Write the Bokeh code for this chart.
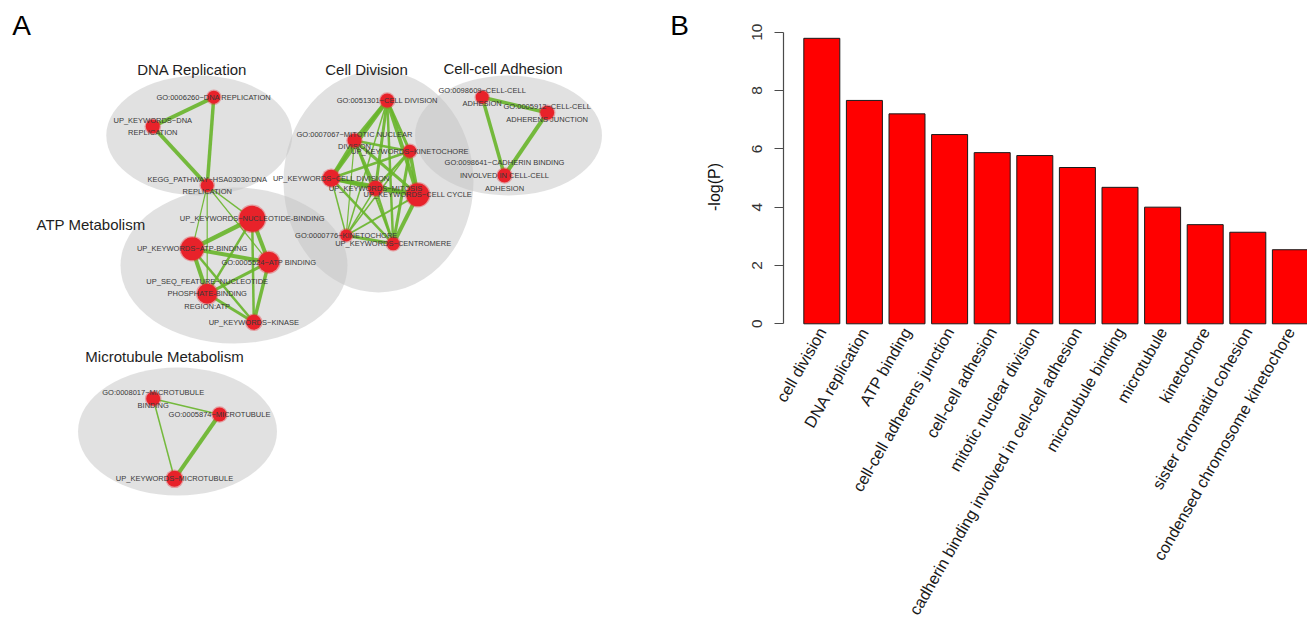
import math
from bokeh.plotting import figure
from bokeh.models import Range1d, FixedTicker, ColumnDataSource
from bokeh.layouts import row
from bokeh.embed import file_html
from bokeh.resources import INLINE
from bokeh.core.properties import value

# ---------------- Panel A: enrichment map ----------------
cluster_names = ["DNA Replication", "Cell Division", "Cell-cell Adhesion",
                 "ATP Metabolism", "Microtubule Metabolism"]
cluster_x = [198.8, 378.0, 508.0, 233.5, 177.0]
cluster_y = [135.0, 181.0, 135.0, 265.0, 431.0]
cluster_w = [186.0, 190.0, 187.0, 227.0, 199.0]
cluster_h = [120.0, 222.0, 120.0, 156.0, 128.0]
title_x = [191.7, 366.0, 503.0, 90.5, 164.0]
title_y = [69.0, 69.0, 68.0, 224.0, 356.0]

node_labels = [
    "GO:0006260~DNA REPLICATION",
    "UP_KEYWORDS~DNA\nREPLICATION",
    "KEGG_PATHWAY~HSA03030:DNA\nREPLICATION",
    "GO:0051301~CELL DIVISION",
    "GO:0007067~MITOTIC NUCLEAR\nDIVISION",
    "UP_KEYWORDS~KINETOCHORE",
    "UP_KEYWORDS~CELL DIVISION",
    "UP_KEYWORDS~MITOSIS",
    "UP_KEYWORDS~CELL CYCLE",
    "GO:0000776~KINETOCHORE",
    "UP_KEYWORDS~CENTROMERE",
    "GO:0098609~CELL-CELL\nADHESION",
    "GO:0005912~CELL-CELL\nADHERENS JUNCTION",
    "GO:0098641~CADHERIN BINDING\nINVOLVED IN CELL-CELL\nADHESION",
    "UP_KEYWORDS~NUCLEOTIDE-BINDING",
    "UP_KEYWORDS~ATP-BINDING",
    "GO:0005524~ATP BINDING",
    "UP_SEQ_FEATURE~NUCLEOTIDE\nPHOSPHATE-BINDING\nREGION:ATP",
    "UP_KEYWORDS~KINASE",
    "GO:0008017~MICROTUBULE\nBINDING",
    "GO:0005874~MICROTUBULE",
    "UP_KEYWORDS~MICROTUBULE",
]
node_x = [213.3, 152.3, 206.7,
          386.7, 354.0, 409.3, 330.7, 375.0, 417.3, 345.7, 392.7,
          481.7, 546.7, 504.0,
          251.7, 191.7, 268.3, 206.7, 253.3,
          152.7, 219.0, 174.0]
node_y = [96.7, 126.0, 185.0,
          100.0, 140.0, 150.7, 177.7, 187.7, 194.3, 235.0, 243.3,
          96.7, 112.3, 175.0,
          218.3, 248.3, 261.7, 293.3, 321.7,
          398.3, 414.0, 478.3]
node_size = [6.5, 7.0, 6.5,
             7.0, 7.0, 6.5, 8.5, 7.5, 11.5, 6.0, 6.5,
             6.5, 7.0, 7.0,
             13.0, 11.5, 10.5, 10.0, 7.5,
             7.0, 7.0, 8.0]

edge_src = [0, 0, 1,
            2, 2, 2, 2,
            3, 3, 3, 3, 3, 3, 3,
            4, 4, 4, 4, 4, 4,
            5, 5, 5, 5, 5,
            6, 6, 6, 6,
            7, 7, 7,
            8, 8,
            9,
            11, 11, 12,
            14, 14, 14, 14, 15, 15, 15, 16, 16, 17,
            19, 19, 20]
edge_dst = [1, 2, 2,
            14, 15, 16, 17,
            4, 5, 6, 7, 8, 9, 10,
            5, 6, 7, 8, 9, 10,
            6, 7, 8, 9, 10,
            7, 8, 9, 10,
            8, 9, 10,
            9, 10,
            10,
            12, 13, 13,
            15, 16, 17, 18, 16, 17, 18, 17, 18, 18,
            20, 21, 21]
edge_w = [4.0, 3.5, 4.0,
          1.5, 1.2, 1.2, 1.2,
          4.0, 3.0, 4.0, 3.0, 4.0, 1.5, 2.5,
          2.5, 4.0, 3.0, 3.0, 1.2, 2.0,
          2.5, 2.5, 3.5, 1.5, 3.0,
          4.0, 4.0, 1.5, 2.5,
          4.0, 1.5, 2.5,
          2.0, 4.0,
          3.0,
          3.5, 3.5, 4.0,
          4.5, 4.0, 2.5, 2.5, 4.0, 4.0, 2.5, 3.0, 3.5, 3.0,
          1.5, 1.5, 4.0]

# ---------------- Panel B: enriched terms ----------------
terms = ["cell division", "DNA replication", "ATP binding",
         "cell-cell adherens junction", "cell-cell adhesion",
         "mitotic nuclear division",
         "cadherin binding involved in cell-cell adhesion",
         "microtubule binding", "microtubule", "kinetochore",
         "sister chromatid cohesion", "condensed chromosome kinetochore"]
neg_log_p = [9.79, 7.66, 7.20, 6.49, 5.87, 5.77, 5.36, 4.68, 4.00, 3.40, 3.14, 2.54]
y_ticks = [0, 2, 4, 6, 8, 10]

FONT = "Liberation Sans"
H = 626
W_A = 690
W_B = 1307 - W_A

# ---- network panel, drawn in pixel-like coordinates (y grows downward)
pa = figure(width=W_A, height=H, x_range=Range1d(0, W_A), y_range=Range1d(H, 0),
            x_axis_type=None, y_axis_type=None, output_backend="svg",
            toolbar_location=None, min_border=0, outline_line_color=None)

pa.ellipse(x=cluster_x, y=cluster_y, width=cluster_w, height=cluster_h,
           fill_color="#c4c4c4", fill_alpha=0.5, line_color=None)

pa.text(x=title_x, y=title_y, text=cluster_names, text_align="center",
        text_baseline="middle", text_font=value(FONT), text_font_size="15px",
        text_color="#1e1e1e")

edges = ColumnDataSource(dict(
    x0=[node_x[s] for s in edge_src], y0=[node_y[s] for s in edge_src],
    x1=[node_x[d] for d in edge_dst], y1=[node_y[d] for d in edge_dst],
    w=edge_w))
pa.segment(x0="x0", y0="y0", x1="x1", y1="y1", line_width="w", source=edges,
           line_color="#68b52a", line_alpha=0.9)

pa.circle(x=node_x, y=node_y, radius=[r + 1.3 for r in node_size],
          fill_color="#e8222a", fill_alpha=0.35, line_color=None)
pa.circle(x=node_x, y=node_y, radius=node_size,
          fill_color="#e8222a", line_color=None)

LINE_STEP = 12.7
lx, ly, lt = [], [], []
for lab, x, y in zip(node_labels, node_x, node_y):
    parts = lab.split("\n")
    n = len(parts)
    for k, part in enumerate(parts):
        lx.append(x)
        ly.append(y + (k - (n - 1) / 2) * LINE_STEP)
        lt.append(part)
pa.text(x=lx, y=ly, text=lt, text_align="center", text_baseline="middle",
        text_font=value(FONT), text_font_size="7.5px", text_color="#383838")

pa.text(x=[21, 679], y=[25, 25], text=["A", "B"], text_align="center",
        text_baseline="middle", text_font=value(FONT), text_font_size="28px",
        text_color="#000000")

# ---- bar chart panel: the frame fills the whole panel, the y axis sits at a
# fixed position inside it and is bounded to the 0..10 span
PX_PER_X = 42.6            # one category step in pixels
PX_PER_Y = 29.16           # one unit of -log(P) in pixels
ZERO_PX = 323.3            # zero line, from the top
FIRST_BAR_PX = 131.3       # centre of the first bar, from the panel's left edge
AXIS_PX = 93.0             # y axis line, from the panel's left edge

x_lo = -FIRST_BAR_PX / PX_PER_X
x_hi = x_lo + W_B / PX_PER_X
y_lo = -(H - ZERO_PX) / PX_PER_Y
y_hi = ZERO_PX / PX_PER_Y
axis_x = x_lo + AXIS_PX / PX_PER_X

idx = list(range(len(terms)))
pb = figure(width=W_B, height=H, x_range=Range1d(x_lo, x_hi),
            y_range=Range1d(y_lo, y_hi), x_axis_location=None,
            output_backend="svg", toolbar_location=None,
            min_border=0, outline_line_color=None)
pb.grid.visible = False

pb.vbar(x=idx, top=neg_log_p, bottom=0, width=0.845,
        fill_color="#ff0000", line_color="#1a1a1a", line_width=1)

ya = pb.yaxis[0]
ya.fixed_location = axis_x
ya.ticker = FixedTicker(ticks=y_ticks)
ya.bounds = (y_ticks[0], y_ticks[-1])
ya.minor_tick_line_color = None
ya.major_tick_in = 0
ya.major_tick_out = 9
ya.axis_line_color = "#4a4a4a"
ya.major_tick_line_color = "#4a4a4a"
ya.axis_line_width = 1.2
ya.major_label_orientation = "vertical"
ya.major_label_text_font = FONT
ya.major_label_text_font_size = "15.5px"
ya.major_label_text_color = "#333333"
ya.major_label_standoff = 12

# axis title, rotated, left of the tick labels
pb.text(x=[axis_x], y=[(y_ticks[0] + y_ticks[-1]) / 2], text=["-log(P)"],
        angle=math.pi / 2, x_offset=-69, y_offset=9, text_align="center",
        text_baseline="middle", text_font=value(FONT), text_font_size="16px",
        text_color="#111111")

# category labels, slanted under the bars
pb.text(x=idx, y=[0] * len(terms), text=terms, angle=math.pi / 3,
        text_align="right", text_baseline="middle", y_offset=5,
        text_font=value(FONT), text_font_size="16.2px", text_color="#1a1a1a")

layout = row(pa, pb)
open("out.html", "w").write(file_html(layout, INLINE))
